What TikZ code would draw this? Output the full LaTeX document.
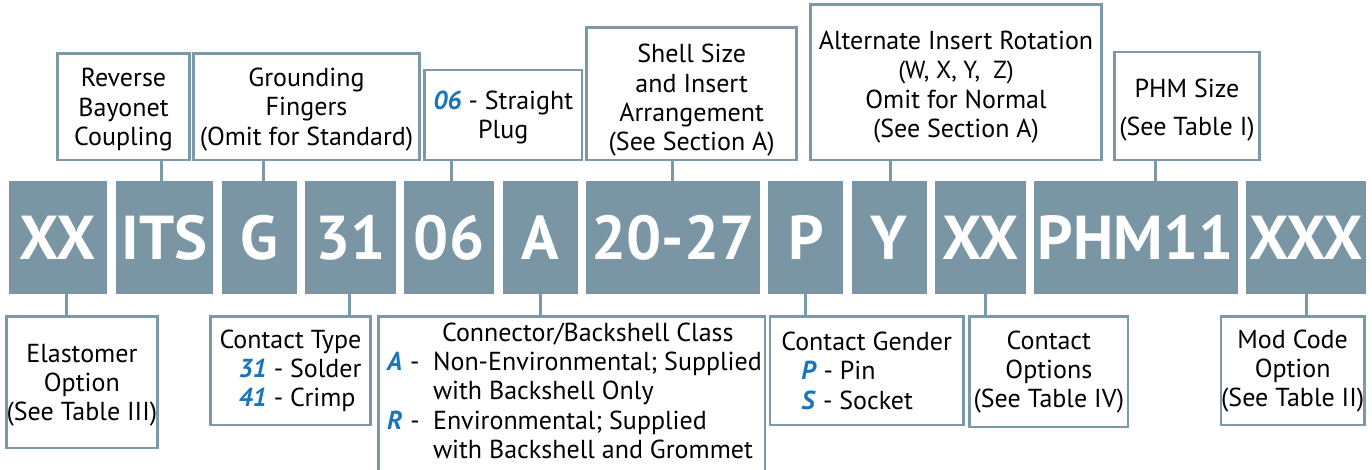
\documentclass[tikz,border=0pt]{standalone}
\usepackage{fontspec}
\setmainfont{PT Sans}
\definecolor{slate}{HTML}{7A96A4}
\definecolor{edgecol}{HTML}{7D98A6}
\definecolor{codeblue}{HTML}{1B75BB}
\newcommand{\bl}[1]{\textcolor{codeblue}{\textbf{\textit{#1}}}}
\newcommand{\segfont}{\fontsize{31}{31}\selectfont\bfseries}
\newcommand{\lblfont}{\fontsize{13}{14.6}\selectfont}
\newcommand{\smallerlbl}[1]{\scalebox{0.95}{#1}}
\begin{document}
\begin{tikzpicture}[x=0.5pt,y=-0.5pt,
  seg/.style={fill=slate, draw=none, text=white, font=\segfont, inner sep=0pt,
    minimum height=56.5pt, text height=21.7pt, text depth=0pt},
  lbl/.style={draw=edgecol, line width=1.4pt, fill=white, align=center, font=\lblfont, inner sep=0pt},
  lbll/.style={lbl, align=left},
  conn/.style={draw=edgecol, line width=1.5pt}]
\useasboundingbox (0,0) rectangle (1372,470);
\clip (0,0) rectangle (1372,470);

% code segments
\node[seg, minimum width=48.85pt] (xx1) at (57.85,237.5) {XX};
\node[seg, minimum width=48.8pt]  (its) at (164.5,237.5) {ITS};
\node[seg, minimum width=37.5pt]  (g)   at (259.2,237.5) {G};
\node[seg, minimum width=45.2pt]  (n31) at (350.5,237.5) {31};
\node[seg, minimum width=45pt]    (n06) at (449,237.5) {06};
\node[seg, minimum width=37.5pt]  (a)   at (540.2,237.5) {A};
\node[seg, minimum width=86.85pt] (sz)  at (673.15,237.5) {20-27};
\node[seg, minimum width=37.5pt]  (p)   at (805.8,237.5) {P};
\node[seg, minimum width=37.5pt]  (y)   at (889.2,237.5) {Y};
\node[seg, minimum width=45.2pt]  (xx2) at (980.5,237.5) {XX};
\node[seg, minimum width=101.85pt] (phm) at (1135.85,237.5) {PHM11};
\node[seg, minimum width=60pt]    (xxx) at (1306,237.5) {XXX};

% top labels
\node[lbl, minimum width=65.8pt, minimum height=53.15pt] (rbc) at (123.5,106.85) {\rule{0pt}{12pt}Reverse\\Bayonet\\Coupling};
\node[lbl, minimum width=112.8pt, minimum height=53.15pt] (gf) at (306.5,106.85) {\rule{0pt}{12pt}Grounding\\Fingers\\(Omit for Standard)};
\node[lbl, minimum width=78.75pt, minimum height=45pt] (sp) at (503.25,115) {\rule{0pt}{12pt}\bl{06} - Straight\\Plug};
\node[lbl, minimum width=105pt, minimum height=66.35pt] (ss) at (691.7,93.65) {\rule{0pt}{16pt}Shell Size\\and Insert\\Arrangement\\(See Section A)};
\node[lbl, minimum width=145.3pt, minimum height=77.65pt] (air) at (956,82.35) {\rule{0pt}{14pt}Alternate Insert Rotation\\\smallerlbl{(W, X, Y,\ \ Z)}\\Omit for Normal\\(See Section A)};
\node[lbl, minimum width=72.3pt, minimum height=54pt] (phs) at (1187,106) {\rule{0pt}{13pt}PHM Size\\[4.4pt](See Table I)};

% bottom labels
\node[lbl, minimum width=74.15pt, minimum height=65.65pt] (el) at (81.85,382.35) {\rule{0pt}{12pt}Elastomer\\Option\\(See Table III)};
\node[lbll, minimum width=80.2pt, minimum height=54.15pt] (ct) at (290.5,370.85) {Contact Type\\\hspace*{9.5pt}\bl{31} - Solder\\\hspace*{9.5pt}\bl{41} - Crimp};
\node[lbl, minimum width=193.35pt, minimum height=90pt] (cbc) at (571.65,406.7) {};
\node[lbll, anchor=base west, draw=none, fill=none] (cbctext) at (385.7,458.3)
  {\hspace*{27.5pt}Connector/Backshell Class\\
   \makebox[23pt][l]{\bl{A}\hspace{4pt}-}Non-Environmental; Supplied\\
   \hspace*{23pt}with Backshell Only\\
   \makebox[23pt][l]{\bl{R}\hspace{4pt}-}Environmental; Supplied\\
   \hspace*{23pt}with Backshell and Grommet};
\node[lbll, minimum width=96.65pt, minimum height=54.15pt] (cg) at (866.65,370.85) {Contact Gender\\\hspace*{10pt}\bl{P} - Pin\\\hspace*{10pt}\bl{S} - Socket};
\node[lbl, minimum width=79.15pt, minimum height=55.15pt] (co) at (1048.85,371.85) {Contact\\Options\\(See Table IV)};
\node[lbl, minimum width=71.65pt, minimum height=54.15pt] (mc) at (1292.65,370.85) {Mod Code\\Option\\(See Table II)};

% connectors
\draw[conn] (rbc.south -| 161.7,0) -- (its.north -| 161.7,0);
\draw[conn] (gf.south -| 263.3,0) -- (g.north -| 263.3,0);
\draw[conn] (sp.south -| 451.7,0) -- (n06.north -| 451.7,0);
\draw[conn] (ss.south -| 672.3,0) -- (sz.north -| 672.3,0);
\draw[conn] (air.south -| 890,0) -- (y.north -| 890,0);
\draw[conn] (phs.south -| 1155.7,0) -- (phm.north -| 1155.7,0);
\draw[conn] (xx1.south -| 66,0) -- (el.north -| 66,0);
\draw[conn] (n31.south -| 349.3,0) -- (ct.north -| 349.3,0);
\draw[conn] (a.south -| 540.7,0) -- (cbc.north -| 540.7,0);
\draw[conn] (p.south -| 805,0) -- (cg.north -| 805,0);
\draw[conn] (xx2.south -| 985.3,0) -- (co.north -| 985.3,0);
\draw[conn] (xxx.south -| 1306.7,0) -- (mc.north -| 1306.7,0);
\end{tikzpicture}
\end{document}
